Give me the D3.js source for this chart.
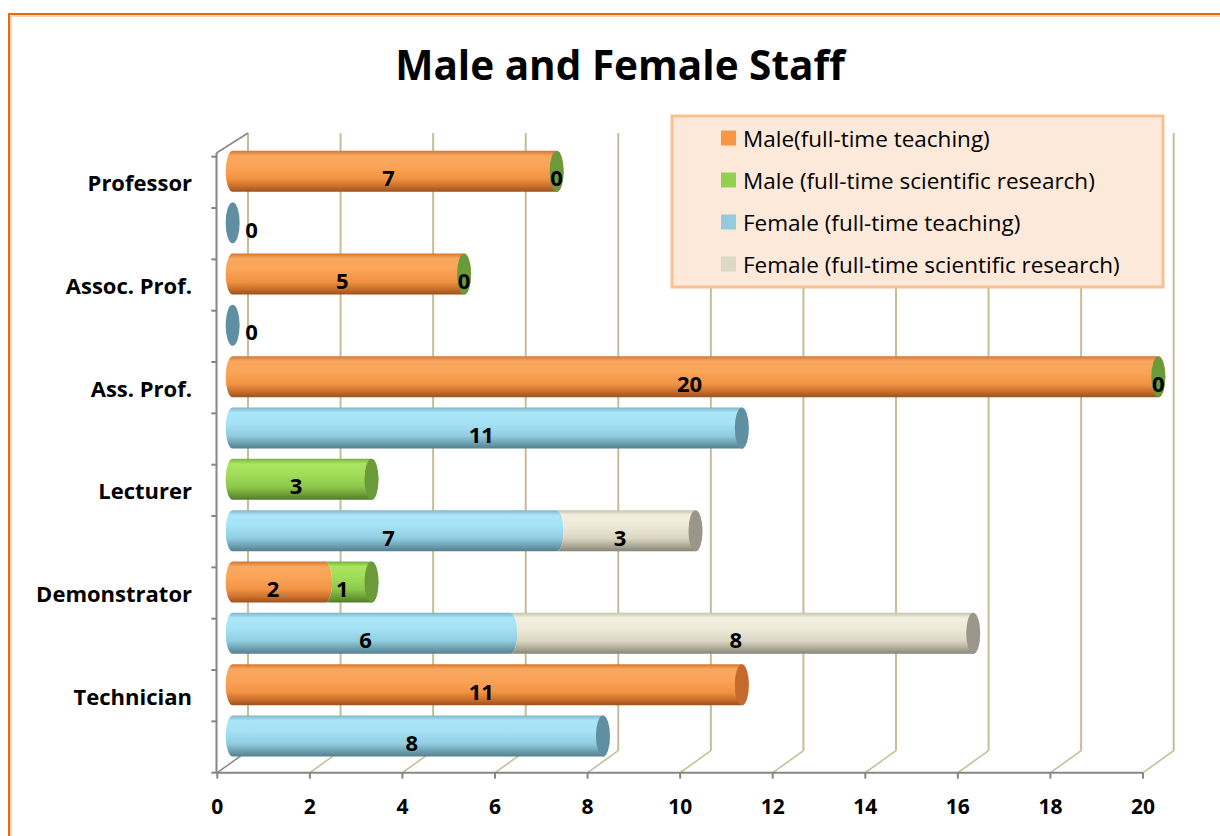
<!DOCTYPE html>
<html>
<head>
<meta charset="utf-8">
<script src="https://cdn.jsdelivr.net/npm/d3@7"></script>
<style>
  body { margin: 0; background: #fff; }
  text { font-family: "Open Sans", Lato, sans-serif; }
</style>
</head>
<body>
<div id="chart"></div>
<script>
(function() {
  const width = 1220;
  const height = 836;

  // rows: each category has a male row and a female row
  const rowLabels = ["Professor", "", "Assoc. Prof.", "", "Ass. Prof.", "", "Lecturer", "", "Demonstrator", "", "Technician", ""];
  const maleTeaching = [7, null, 5, null, 20, null, null, null, 2, null, 11, null];
  const maleResearch = [0, null, 0, null, 0, null, 3, null, 1, null, null, null];
  const femaleTeaching = [null, 0, null, 0, null, 11, null, 7, null, 6, null, 8];
  const femaleResearch = [null, null, null, null, null, null, null, 3, null, 10, null, null];
  // the data label shown on the picture does not always equal the drawn length
  const femaleResearchLabels = [null, null, null, null, null, null, null, "3", null, "8", null, null];
  const seriesNames = ["Male(full-time teaching)", "Male (full-time scientific research)", "Female (full-time teaching)", "Female (full-time scientific research)"];
  const xTicks = [0, 2, 4, 6, 8, 10, 12, 14, 16, 18, 20];

  const series = [
    { name: seriesNames[0], values: maleTeaching, key: "orange", swatch: "#F79646", cap: "#C46A2C",
      stops: ["#D47430", "#F9A85F", "#FBA458", "#F29344", "#C66B2A", "#98521F"] },
    { name: seriesNames[1], values: maleResearch, key: "green", swatch: "#92D050", cap: "#6A9A3A",
      stops: ["#7BB142", "#A9E55F", "#A2DD58", "#8CC84A", "#699A35", "#537A29"] },
    { name: seriesNames[2], values: femaleTeaching, key: "blue", swatch: "#93CDDD", cap: "#5F8FA0",
      stops: ["#7FB5C7", "#AAE6F8", "#A4E2F5", "#92CEE1", "#6A9DAE", "#557F8E"] },
    { name: seriesNames[3], values: femaleResearch, labels: femaleResearchLabels, key: "beige", swatch: "#DDD9C3", cap: "#9A978A",
      stops: ["#C7C3AE", "#F2EFE0", "#EEEAD9", "#DBD7C2", "#A9A694", "#86847A"] }
  ];

  const svg = d3.select("#chart")
    .append("svg")
    .attr("width", width)
    .attr("height", height);

  // gradients for the cylinders
  const defs = svg.append("defs");
  const offs = [0, 0.12, 0.38, 0.68, 0.88, 1];
  series.forEach(s => {
    const g = defs.append("linearGradient")
      .attr("id", "grad-" + s.key)
      .attr("x1", 0).attr("y1", 0).attr("x2", 0).attr("y2", 1);
    s.stops.forEach((c, i) => g.append("stop").attr("offset", offs[i]).attr("stop-color", c));
  });

  // outer border of the chart area
  svg.append("rect")
    .attr("x", 9).attr("y", 14)
    .attr("width", 1240).attr("height", 860)
    .style("fill", "none")
    .style("stroke", "#E46C0A")
    .style("stroke-width", 2);
  svg.append("rect")
    .attr("x", 11).attr("y", 16)
    .attr("width", 1240).attr("height", 860)
    .style("fill", "none")
    .style("stroke", "#F7A86A")
    .style("stroke-width", 1);

  // title
  svg.append("text")
    .attr("x", 620).attr("y", 64)
    .attr("text-anchor", "middle")
    .attr("dominant-baseline", "central")
    .style("font-size", "40.5px")
    .style("font-weight", "bold")
    .text("Male and Female Staff");

  // scales (front plane of the 3D box)
  const depthX = 30.7, depthY = 22;
  const x = d3.scaleLinear().domain([0, 20]).range([217.3, 1143]);
  const y = d3.scaleBand().domain(d3.range(rowLabels.length)).range([156.7, 772.7]);
  const floorY = 772.7, topY = 133;
  const grid = "#C4BD97", axisCol = "#868686";

  // back wall gridlines and floor diagonals
  const gl = svg.append("g");
  xTicks.forEach(t => {
    gl.append("line")
      .attr("x1", x(t) + depthX).attr("y1", floorY - depthY)
      .attr("x2", x(t) + depthX).attr("y2", topY)
      .style("stroke", grid).style("stroke-width", 2);
    gl.append("line")
      .attr("x1", x(t)).attr("y1", floorY)
      .attr("x2", x(t) + depthX).attr("y2", floorY - depthY)
      .style("stroke", t === 0 ? axisCol : grid).style("stroke-width", 1.5);
  });

  // axes
  svg.append("line")
    .attr("x1", x(0) - 0.8).attr("y1", y(0) - 3.7)
    .attr("x2", x(0) - 0.8).attr("y2", floorY)
    .style("stroke", axisCol).style("stroke-width", 2);
  svg.append("line")
    .attr("x1", x(0) - 0.8).attr("y1", y(0) - 3.7)
    .attr("x2", x(0) + depthX).attr("y2", topY)
    .style("stroke", axisCol).style("stroke-width", 1.5);
  svg.append("line")
    .attr("x1", x(0) - 1).attr("y1", floorY)
    .attr("x2", x(20)).attr("y2", floorY)
    .style("stroke", axisCol).style("stroke-width", 2);
  d3.range(rowLabels.length + 1).forEach(k => {
    const yy = k < rowLabels.length ? y(k) : floorY;
    svg.append("line")
      .attr("x1", x(0) - 6).attr("y1", yy)
      .attr("x2", x(0)).attr("y2", yy)
      .style("stroke", axisCol).style("stroke-width", 2);
  });
  xTicks.forEach(t => {
    svg.append("line")
      .attr("x1", x(t)).attr("y1", floorY)
      .attr("x2", x(t)).attr("y2", floorY + 6)
      .style("stroke", axisCol).style("stroke-width", 2);
    svg.append("text")
      .attr("x", x(t)).attr("y", 806)
      .attr("text-anchor", "middle")
      .attr("dominant-baseline", "central")
      .style("font-size", "21px")
      .style("font-weight", "bold")
      .text(t);
  });

  // category labels
  rowLabels.forEach((lab, i) => {
    if (!lab) return;
    svg.append("text")
      .attr("x", 192).attr("y", y(i) + y.bandwidth() / 2)
      .attr("text-anchor", "end")
      .attr("dominant-baseline", "central")
      .style("font-size", "22px")
      .style("font-weight", "bold")
      .text(lab);
  });

  // cylinders
  const barH = 41, rx = 7, ry = barH / 2;
  const bx = v => x(v) + depthX / 2;
  const bars = svg.append("g");
  const labels = svg.append("g");

  rowLabels.forEach((_, i) => {
    const cy = y(i) + y.bandwidth() / 2 - depthY / 2;
    const top = cy - ry, bot = cy + ry;
    let acc = 0, first = true;
    const segs = [];
    series.forEach(s => {
      const v = s.values[i];
      if (v === null) return;
      segs.push({ s: s, v0: acc, v1: acc + v, first: first, label: s.labels ? s.labels[i] : String(v) });
      acc += v;
      first = false;
    });
    if (!segs.length) return;
    segs.forEach(d => {
      if (d.v1 === d.v0) return;
      const x0 = bx(d.v0), x1 = bx(d.v1);
      const path = `M${x0},${top}L${x1},${top}A${rx},${ry} 0 0 1 ${x1},${bot}L${x0},${bot}A${rx},${ry} 0 0 ${d.first ? 1 : 0} ${x0},${top}Z`;
      bars.append("path")
        .attr("d", path)
        .style("fill", "url(#grad-" + d.s.key + ")");
    });
    const last = segs[segs.length - 1];
    bars.append("ellipse")
      .attr("cx", bx(last.v1)).attr("cy", cy)
      .attr("rx", rx).attr("ry", ry)
      .style("fill", last.s.cap);
    segs.forEach(d => {
      let lx;
      if (d.v1 === d.v0) lx = bx(d.v1) + (segs.length === 1 ? 19 : 0);
      else lx = bx((d.v0 + d.v1) / 2) - 6;
      labels.append("text")
        .attr("x", lx).attr("y", cy + 6)
        .attr("text-anchor", "middle")
        .attr("dominant-baseline", "central")
        .style("font-size", "22px")
        .style("font-weight", "bold")
        .text(d.label);
    });
  });

  // legend
  const lg = svg.append("g");
  lg.append("rect")
    .attr("x", 672).attr("y", 116)
    .attr("width", 491).attr("height", 171)
    .style("fill", "#FDE9D9")
    .style("stroke", "#FAC08F")
    .style("stroke-width", 3);
  series.forEach((s, i) => {
    const yy = 138 + i * 42;
    lg.append("rect")
      .attr("x", 721).attr("y", yy - 7.5)
      .attr("width", 15).attr("height", 15)
      .style("fill", s.swatch);
    lg.append("text")
      .attr("x", 743).attr("y", yy)
      .attr("dominant-baseline", "central")
      .style("font-size", "22.5px")
      .text(s.name);
  });
})();
</script>
</body>
</html>
